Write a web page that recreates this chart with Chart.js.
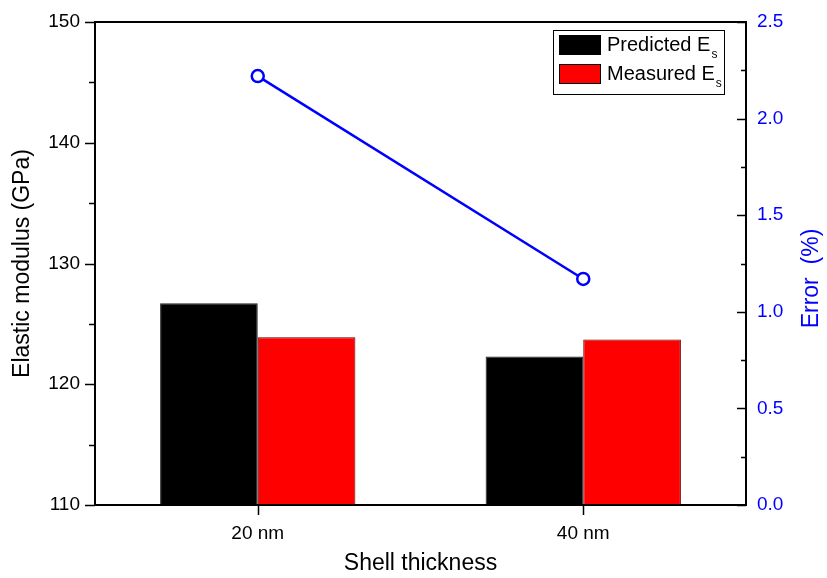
<!DOCTYPE html>
<html>
<head>
<meta charset="utf-8">
<script src="https://cdn.jsdelivr.net/npm/chart.js@4/dist/chart.umd.min.js"></script>
<style>
html,body{margin:0;padding:0;background:#fff;}
#wrap{width:827px;height:578px;}
</style>
</head>
<body>
<div id="wrap"><canvas id="c" width="827" height="578"></canvas></div>
<script>
const categories = ["20 nm", "40 nm"];
const predictedEs = [126.7, 122.3];
const measuredEs = [123.9, 123.7];
const errorPct = [2.22, 1.17];
const seriesNames = ["Predicted E", "Measured E"];
const seriesSub = "s";
const leftTicks = [110, 120, 130, 140, 150];
const rightTicks = [0.0, 0.5, 1.0, 1.5, 2.0, 2.5];

const FONT = "'Liberation Sans', Arial, sans-serif";
const BLUE = '#0000ff';

const framePlugin = {
  id: 'frame',
  afterDraw(chart) {
    const ctx = chart.ctx;
    const a = chart.chartArea;
    const y = chart.scales.y, y1 = chart.scales.y1, x = chart.scales.x;
    ctx.save();
    ctx.strokeStyle = '#000';
    ctx.lineWidth = 2;
    ctx.strokeRect(a.left, a.top, a.right - a.left, a.bottom - a.top);
    ctx.lineWidth = 1.5;
    ctx.beginPath();
    // left axis ticks (outward)
    for (let v = y.min; v <= y.max + 1e-9; v += 5) {
      const p = Math.round(y.getPixelForValue(v)) + 0.5;
      const len = (Math.abs(v % 10) < 1e-9) ? 10 : 6;
      ctx.moveTo(a.left, p); ctx.lineTo(a.left - len, p);
    }
    // right axis ticks (inward)
    for (let i = 0; i <= 10; i++) {
      const v = i * 0.25;
      const p = Math.round(y1.getPixelForValue(v)) + 0.5;
      const len = (i % 2 === 0) ? 9 : 5;
      ctx.moveTo(a.right, p); ctx.lineTo(a.right - len, p);
    }
    // x ticks
    categories.forEach((c, i) => {
      const p = Math.round(x.getPixelForValue(i)) + 0.5;
      ctx.moveTo(p, a.bottom); ctx.lineTo(p, a.bottom + 10);
    });
    ctx.stroke();

    // right axis title (reads bottom to top)
    ctx.save();
    ctx.fillStyle = BLUE;
    ctx.font = "23px " + FONT;
    ctx.textAlign = 'center';
    ctx.textBaseline = 'middle';
    ctx.translate(chart.width - 15, (a.top + a.bottom) / 2 + 15);
    ctx.rotate(-Math.PI / 2);
    ctx.fillText('Error  (%)', 0, 0);
    ctx.restore();

    // legend
    const bx = a.right - 193, by = a.top + 8, bw = 171, bh = 64;
    ctx.fillStyle = '#fff';
    ctx.fillRect(bx, by, bw, bh);
    ctx.lineWidth = 1;
    ctx.strokeStyle = '#000';
    ctx.strokeRect(bx + 0.5, by + 0.5, bw, bh);
    const colors = ['#000000', '#ff0000'];
    seriesNames.forEach((n, i) => {
      const sy = by + 5 + i * 29;
      ctx.fillStyle = colors[i];
      ctx.fillRect(bx + 6, sy, 42, 20);
      ctx.strokeStyle = '#000';
      ctx.strokeRect(bx + 6.5, sy + 0.5, 41, 19);
      ctx.fillStyle = '#000';
      ctx.font = "20px " + FONT;
      ctx.textAlign = 'left';
      ctx.textBaseline = 'middle';
      ctx.fillText(n, bx + 54, sy + 10);
      const w = ctx.measureText(n).width;
      ctx.font = "12px " + FONT;
      ctx.fillText(seriesSub, bx + 54 + w + 1, sy + 20);
    });
    ctx.restore();
  }
};

new Chart(document.getElementById('c'), {
  data: {
    labels: categories,
    datasets: [
      {
        type: 'line', label: 'Error', data: errorPct, yAxisID: 'y1',
        borderColor: BLUE, borderWidth: 2.5, pointRadius: 6, pointHoverRadius: 6,
        pointBorderWidth: 2.5, pointBackgroundColor: '#fff', pointBorderColor: BLUE,
        order: 0
      },
      {
        type: 'bar', label: seriesNames[0] + seriesSub, data: predictedEs, yAxisID: 'y',
        backgroundColor: '#000000', borderColor: '#222', borderWidth: 1,
        categoryPercentage: 0.6, barPercentage: 1.0, order: 1
      },
      {
        type: 'bar', label: seriesNames[1] + seriesSub, data: measuredEs, yAxisID: 'y',
        backgroundColor: '#ff0000', borderColor: '#5a0000', borderWidth: 1,
        categoryPercentage: 0.6, barPercentage: 1.0, order: 1
      }
    ]
  },
  options: {
    responsive: false,
    animation: false,
    layout: { padding: { top: 22, left: 0, right: 0, bottom: 0 } },
    plugins: { legend: { display: false }, tooltip: { enabled: false } },
    scales: {
      x: {
        type: 'category', offset: true,
        grid: { display: false }, border: { display: false },
        ticks: { color: '#000', font: { family: FONT, size: 19 }, padding: 9 },
        title: { display: true, text: 'Shell thickness', color: '#000',
                 font: { family: FONT, size: 23 }, padding: { top: 0, bottom: 1 } },
        afterFit(s) { s.height = 73; }
      },
      y: {
        position: 'left', min: leftTicks[0], max: leftTicks[leftTicks.length - 1],
        afterBuildTicks(s) { s.ticks = leftTicks.map(v => ({ value: v })); },
        grid: { display: false }, border: { display: false },
        ticks: { color: '#000', font: { family: FONT, size: 19 }, padding: 7 },
        title: { display: true, text: 'Elastic modulus (GPa)', color: '#000',
                 font: { family: FONT, size: 23 }, padding: { top: 9, bottom: 0 } },
        afterFit(s) { s.width = 95; }
      },
      y1: {
        position: 'right', min: rightTicks[0], max: rightTicks[rightTicks.length - 1],
        afterBuildTicks(s) { s.ticks = rightTicks.map(v => ({ value: v })); },
        grid: { display: false }, border: { display: false },
        ticks: { color: BLUE, font: { family: FONT, size: 19 }, padding: 3,
                 callback: v => Number(v).toFixed(1) },
        afterFit(s) { s.width = 81; }
      }
    }
  },
  plugins: [framePlugin]
});
</script>
</body>
</html>
